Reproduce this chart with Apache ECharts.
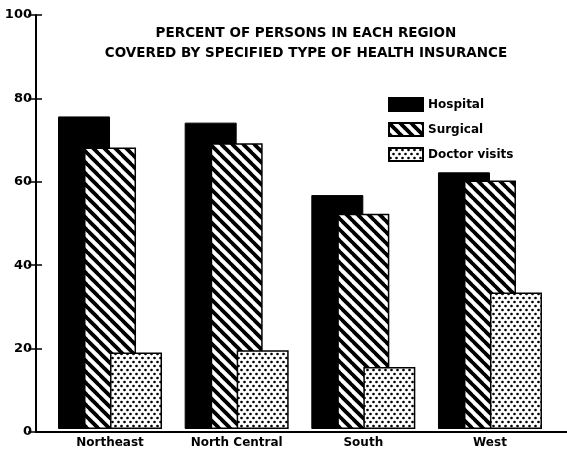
<!DOCTYPE html>
<html>
<head>
<meta charset="utf-8">
<title>Health insurance by region</title>
<script src="https://cdn.jsdelivr.net/npm/echarts@6/dist/echarts.min.js"></script>
<style>
  html, body { margin: 0; padding: 0; background: #fff; }
  #chart { width: 567px; height: 449px; }
</style>
</head>
<body>
<div id="chart"></div>
<script>
// -----------------------------------------
// DATA
// -----------------------------------------
const regions = ['Northeast', 'North Central', 'South', 'West'];
const hospital = [75.5, 74, 56.5, 62];
const surgical = [68, 69, 52, 60];
const doctorVisits = [18.5, 19, 15, 33];

const titleLines = [
  'PERCENT OF PERSONS IN EACH REGION',
  'COVERED BY SPECIFIED TYPE OF HEALTH INSURANCE'
];

// -----------------------------------------
// FILL PATTERNS
// -----------------------------------------
function hatchPattern() {
  const s = 11;
  const c = document.createElement('canvas');
  c.width = s; c.height = s;
  const ctx = c.getContext('2d');
  ctx.fillStyle = '#fff';
  ctx.fillRect(0, 0, s, s);
  ctx.strokeStyle = '#000';
  ctx.lineWidth = 3.8;
  for (let k = -1; k <= 1; k++) {
    ctx.beginPath();
    ctx.moveTo(-1, k * s - 1);
    ctx.lineTo(s + 1, s + k * s + 1);
    ctx.stroke();
  }
  return { image: c, repeat: 'repeat' };
}

function dotPattern() {
  const c = document.createElement('canvas');
  c.width = 6; c.height = 8;
  const ctx = c.getContext('2d');
  ctx.fillStyle = '#fff';
  ctx.fillRect(0, 0, 6, 8);
  ctx.fillStyle = '#000';
  [[1.5, 2], [4.5, 6]].forEach(([x, y]) => {
    ctx.beginPath();
    ctx.arc(x, y, 1.35, 0, Math.PI * 2);
    ctx.fill();
  });
  return { image: c, repeat: 'repeat' };
}

// -----------------------------------------
// CHART
// -----------------------------------------
const chart = echarts.init(document.getElementById('chart'));
const font = 'DejaVu Sans';
const axisY = { min: 0, max: 100, interval: 20 };

chart.setOption({
  animation: false,
  backgroundColor: '#fff',
  title: {
    text: titleLines.join('\n'),
    left: 301,
    top: 18,
    textAlign: 'center',
    textStyle: { fontFamily: font, fontSize: 13.5, fontWeight: 'bold', color: '#000', lineHeight: 20 }
  },
  legend: {
    orient: 'vertical',
    left: 388,
    top: 97,
    padding: 0,
    itemWidth: 34,
    itemHeight: 13,
    itemGap: 10,
    icon: 'rect',
    textStyle: { fontFamily: font, fontSize: 12, fontWeight: 'bold', color: '#000' },
    data: ['Hospital', 'Surgical', 'Doctor visits']
  },
  grid: [
    // bars
    { left: 46.7, right: 13.7, top: 15, bottom: 17 },
    // frame: axes, ticks, top rule
    { left: 36, right: 0, top: 15, bottom: 17 }
  ],
  xAxis: [
    {
      type: 'category',
      gridIndex: 0,
      data: regions,
      axisLine: { show: false },
      axisTick: { show: false },
      axisLabel: { fontFamily: font, fontSize: 12, fontWeight: 'bold', color: '#000', margin: 8 }
    },
    {
      type: 'value', gridIndex: 1, position: 'bottom', min: 0, max: 1,
      axisLine: { lineStyle: { color: '#000', width: 2 } },
      axisTick: { show: false }, axisLabel: { show: false }, splitLine: { show: false }
    },
    {
      type: 'value', gridIndex: 1, position: 'top', min: 0, max: 1,
      axisLine: { lineStyle: { color: '#000', width: 2 } },
      axisTick: { show: false }, axisLabel: { show: false }, splitLine: { show: false }
    }
  ],
  yAxis: [
    Object.assign({ type: 'value', gridIndex: 0, show: false }, axisY),
    Object.assign({
      type: 'value', gridIndex: 1, position: 'left',
      axisLine: { show: true, lineStyle: { color: '#000', width: 2 } },
      axisTick: { show: true, inside: true, length: 6, lineStyle: { color: '#000', width: 1.5 } },
      axisLabel: { fontFamily: font, fontSize: 13, fontWeight: 'bold', color: '#000', margin: 4 },
      splitLine: { show: false }
    }, axisY),
    Object.assign({
      type: 'value', gridIndex: 1, position: 'right',
      axisLine: { show: false },
      axisTick: { show: true, inside: true, length: 8, lineStyle: { color: '#000', width: 1.5 } },
      axisLabel: { show: false },
      splitLine: { show: false }
    }, axisY)
  ],
  series: [
    {
      name: 'Hospital', type: 'bar', data: hospital,
      barWidth: 52, barGap: '-50%',
      itemStyle: { color: '#000', borderColor: '#000', borderWidth: 1 }
    },
    {
      name: 'Surgical', type: 'bar', data: surgical,
      barWidth: 52, barGap: '-50%',
      itemStyle: { color: hatchPattern(), borderColor: '#000', borderWidth: 1.5 }
    },
    {
      name: 'Doctor visits', type: 'bar', data: doctorVisits,
      barWidth: 52, barGap: '-50%',
      itemStyle: { color: dotPattern(), borderColor: '#000', borderWidth: 1.5 }
    }
  ]
});
</script>
</body>
</html>
